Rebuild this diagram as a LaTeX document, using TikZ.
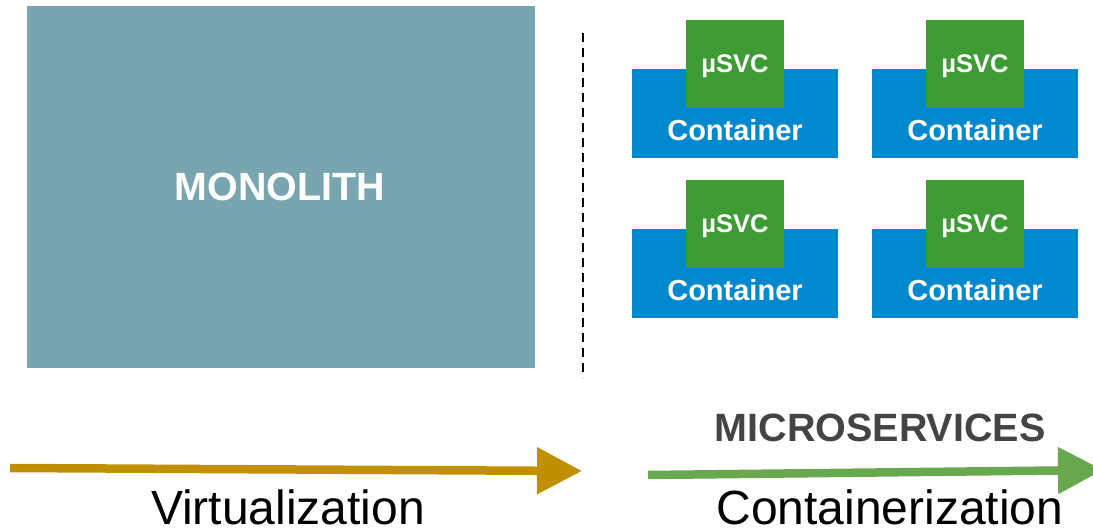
\documentclass[tikz,border=0pt]{standalone}
\usepackage{fontspec}
\setmainfont{Liberation Sans}
\usetikzlibrary{arrows.meta}
\definecolor{mono}{HTML}{78A5B0}
\definecolor{cblue}{HTML}{0088CE}
\definecolor{sgreen}{HTML}{3F9C35}
\definecolor{gold}{HTML}{C09000}
\definecolor{lgreen}{HTML}{6AA84F}
\definecolor{dgray}{HTML}{444444}
\tikzset{
  contbox/.style={fill=cblue, draw=none},
  svcbox/.style={fill=sgreen, draw=none},
  wlabel/.style={text=white, font=\bfseries\fontsize{29}{30}\selectfont, inner sep=0, anchor=base},
  slabel/.style={text=white, font=\bfseries\fontsize{25.5}{26}\selectfont, inner sep=0, anchor=base},
  bigarrow/.style={line width=8.5pt, -{Triangle[length=45pt,width=45pt]}},
  steplabel/.style={text=black, font=\fontsize{48}{49}\selectfont, inner sep=0, anchor=base},
}
\begin{document}
\begin{tikzpicture}[x=1pt,y=-1pt]
\useasboundingbox (0,0) rectangle (1093,529);
\clip (0,0) rectangle (1093,529);
% monolith
\node[fill=mono, minimum width=508pt, minimum height=362pt, inner sep=0, anchor=north west] (mono) at (27,6) {};
\node[text=white, font=\bfseries\fontsize{39.4}{40}\selectfont, inner sep=0, anchor=base] (monotxt) at (280,201) {MONOLITH};
% divider
\coordinate (d1) at (583,33);
\coordinate (d2) at (583,378);
\draw[line width=2pt, dash pattern=on 9pt off 6pt] (d1) -- (d2);
% containers
\foreach \i/\dx/\dy in {1/0/0, 2/240/0, 3/0/160, 4/240/160}{
  \node[contbox, minimum width=206pt, minimum height=89pt, inner sep=0, anchor=north west] (c\i) at (632+\dx,69+\dy) {};
  \node[svcbox, minimum width=98pt, minimum height=88pt, inner sep=0, anchor=north west] (s\i) at (686+\dx,20+\dy) {};
  \node[wlabel] (ct\i) at (735+\dx,141+\dy) {Container};
  \node[slabel] (st\i) at (735+\dx,73+\dy) {µSVC};
}
% arrows
\coordinate (a1) at (10,468);
\coordinate (a2) at (582,471);
\draw[bigarrow, color=gold] (a1) -- (a2);
\coordinate (b1) at (648,475);
\coordinate (b2) at (1103,470);
\draw[bigarrow, color=lgreen] (b1) -- (b2);
\node[text=dgray, font=\bfseries\fontsize{39.5}{40}\selectfont, inner sep=0, anchor=base] (micro) at (880,441) {MICROSERVICES};
\node[steplabel] (virt) at (288,524) {Virtualization};
\node[steplabel] (cont) at (890,524) {Containerization};
\end{tikzpicture}
\end{document}
